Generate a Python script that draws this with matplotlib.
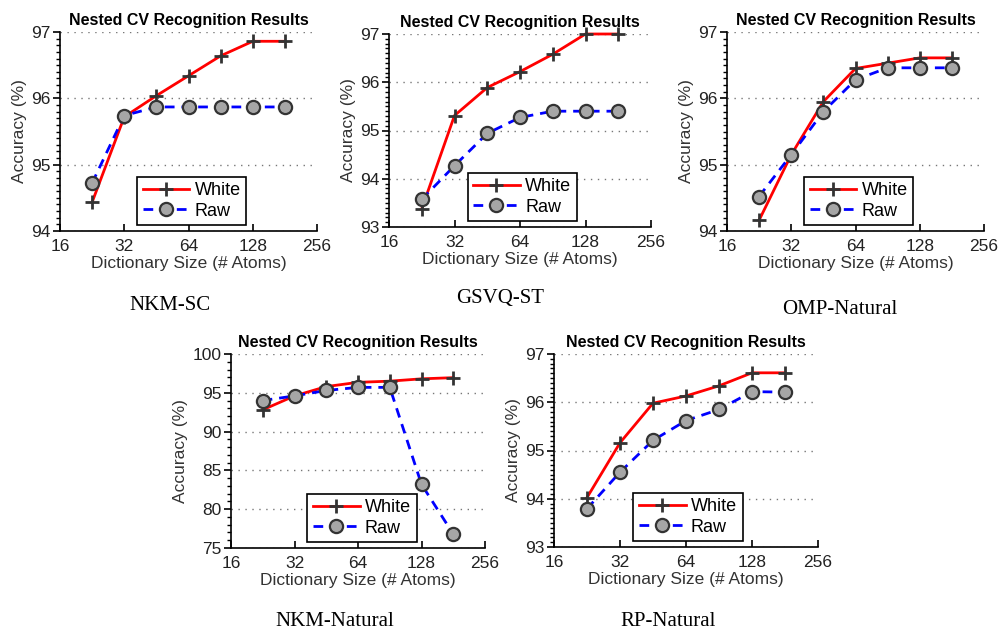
import matplotlib
matplotlib.use("Agg")
import matplotlib.pyplot as plt
from matplotlib.ticker import FixedLocator, MultipleLocator, NullLocator

x_sizes = [22.6, 32, 45.25, 64, 90.5, 128, 181]
x_ticks = [16, 32, 64, 128, 256]

names = ["NKM-SC", "GSVQ-ST", "OMP-Natural", "NKM-Natural", "RP-Natural"]

white_nkm_sc = [94.43, 95.72, 96.04, 96.34, 96.64, 96.86, 96.86]
raw_nkm_sc = [94.72, 95.74, 95.87, 95.87, 95.87, 95.87, 95.87]

white_gsvq = [93.37, 95.31, 95.89, 96.22, 96.58, 97.0, 97.0]
raw_gsvq = [93.57, 94.27, 94.94, 95.27, 95.40, 95.40, 95.40]

white_omp = [94.16, 95.15, 95.95, 96.45, 96.53, 96.61, 96.61]
raw_omp = [94.52, 95.15, 95.80, 96.28, 96.46, 96.46, 96.46]

white_nkm_nat = [92.8, 94.6, 95.8, 96.35, 96.5, 96.8, 96.95]
raw_nkm_nat = [94.0, 94.6, 95.3, 95.7, 95.7, 83.2, 76.8]

white_rp = [94.02, 95.16, 95.98, 96.13, 96.34, 96.61, 96.61]
raw_rp = [93.79, 94.55, 95.21, 95.62, 95.85, 96.22, 96.21]

whites = [white_nkm_sc, white_gsvq, white_omp, white_nkm_nat, white_rp]
raws = [raw_nkm_sc, raw_gsvq, raw_omp, raw_nkm_nat, raw_rp]
ylims = [(94, 97), (93, 97), (94, 97), (75, 100), (93, 97)]
ymajor = [1, 1, 1, 5, 1]
yminor = [0.1, 0.1, 0.1, 1, 0.1]

# axes boxes in pixels: left, right, top, bottom
W, H = 1000, 639
boxes = [(60, 317, 32, 231), (389, 651, 34, 227), (727, 984, 32, 231),
         (231, 485, 354, 548), (554, 818, 354, 547)]
caption_pos = [(170, 305), (500, 298), (840, 309), (335, 622), (668, 622)]

fig = plt.figure(figsize=(10, 6.39), dpi=100)
sans = ["Liberation Sans", "DejaVu Sans"]

for i in range(5):
    l, r, t, b = boxes[i]
    ax = fig.add_axes([l / W, 1 - b / H, (r - l) / W, (b - t) / H])
    ax.plot(x_sizes, whites[i], color="#ff0000", lw=2, marker="+", ms=10,
            mew=2, mec="#333333", label="White", zorder=3, clip_on=False)
    ax.plot(x_sizes, raws[i], color="#0000ff", lw=2, ls=(0, (3.5, 2.5)),
            marker="o", ms=9.5, mfc="#a6a6a6", mec="#333333", mew=1.6,
            label="Raw", zorder=3, clip_on=False)
    ax.set_xscale("log", base=2)
    ax.set_xlim(16, 256)
    ax.xaxis.set_major_locator(FixedLocator(x_ticks))
    ax.xaxis.set_minor_locator(NullLocator())
    ax.set_xticklabels([str(v) for v in x_ticks])
    ax.set_ylim(*ylims[i])
    ax.yaxis.set_major_locator(MultipleLocator(ymajor[i]))
    ax.yaxis.set_minor_locator(MultipleLocator(yminor[i]))
    ax.spines["top"].set_visible(False)
    ax.spines["right"].set_visible(False)
    ax.spines["left"].set_linewidth(1.2)
    ax.spines["bottom"].set_linewidth(1.2)
    ax.tick_params(axis="x", direction="in", length=5, width=1.2,
                   labelsize=12.5, pad=6)
    ax.tick_params(axis="y", which="major", direction="out", length=5,
                   width=1.2, labelsize=12.5, pad=2)
    ax.tick_params(axis="y", which="minor", direction="out", length=3,
                   width=1)
    for lab in ax.get_xticklabels() + ax.get_yticklabels():
        lab.set_family(sans)
        lab.set_color("#222222")
    ax.grid(axis="y", which="major", ls=(0, (1, 4)), color="#777777", lw=1)
    ax.set_title("Nested CV Recognition Results", fontsize=11.5,
                 fontweight="bold", family=sans, pad=5)
    ax.set_xlabel("Dictionary Size (# Atoms)", fontsize=12.5, family=sans,
                  color="#333333", labelpad=1)
    ax.set_ylabel("Accuracy (%)", fontsize=12.5, family=sans,
                  color="#333333", labelpad=3)
    leg = ax.legend(loc="lower left", bbox_to_anchor=(0.30, 0.03),
                    fancybox=False, edgecolor="black", framealpha=1,
                    prop={"family": sans, "size": 13}, handlelength=2.6,
                    borderpad=0.3, labelspacing=0.2, handletextpad=0.3,
                    borderaxespad=0)
    leg.get_frame().set_linewidth(1.2)
    cx, cy = caption_pos[i]
    fig.text(cx / W, 1 - cy / H, names[i], ha="center", va="center",
             fontsize=15, family=["Liberation Serif", "DejaVu Serif"])

fig.savefig("out.png", dpi=100)
